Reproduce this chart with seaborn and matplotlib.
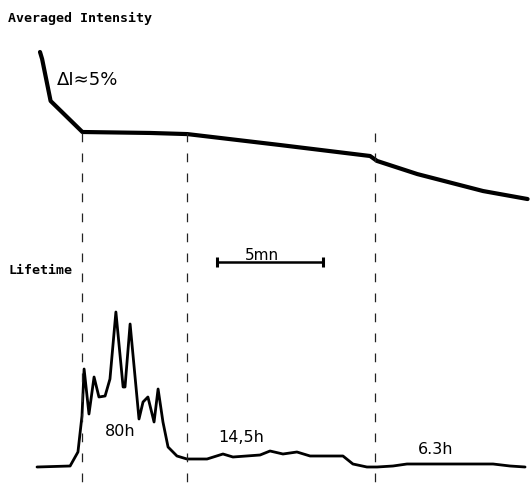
import numpy as np
import pandas as pd
import matplotlib
matplotlib.use("Agg")
import matplotlib.pyplot as plt
import seaborn as sns

# ---- data (time in minutes) ----
int_time = [0.0, 0.1, 0.5, 2.0, 5.2, 6.95, 11.3, 15.57, 15.9, 17.8, 20.9, 23.0]
int_value = [100.0, 99.56, 96.94, 95.0, 94.94, 94.87, 94.19, 93.5, 93.19, 92.37, 91.31, 90.81]

life_time = [-0.14, 1.42, 1.79, 1.98, 2.08, 2.31, 2.55, 2.78, 3.07, 3.3, 3.58, 3.92, 4.01,
             4.25, 4.67, 4.86, 5.09, 5.38, 5.57, 5.8, 6.04, 6.46, 6.93, 7.88, 8.63,
             9.1, 10.38, 10.85, 11.46, 12.12, 12.74, 13.54, 14.29, 14.76, 15.42, 15.9,
             16.65, 17.31, 18.25, 21.37, 22.17, 22.88]
life_value = [0, 1, 15, 51, 98, 53, 90, 70, 71, 88, 155, 80, 80,
              143, 48, 65, 70, 45, 78, 45, 20, 11, 8, 8, 13,
              10, 12, 16, 13, 15, 11, 11, 11, 3, 0, 0,
              1, 3, 3, 3, 1, 0]

event_times = [1.98, 6.93, 15.8]
scale_start, scale_len = 8.35, 5.0

FW, FH = 531, 489
px0, pxs = 40, 21.2
xlim = (-px0 / pxs, (FW - px0) / pxs)

sns.set_theme(style="white")
plt.rcParams['font.family'] = ['DejaVu Sans']

fig = plt.figure(figsize=(FW / 100, FH / 100), dpi=100)

def pos(top_px, bot_px):
    return [0, 1 - bot_px / FH, 1, (bot_px - top_px) / FH]

# intensity axes: I = 100 - (ypx-53)/16
ax_i = fig.add_axes(pos(40, 210))
ax_i.set_xlim(*xlim)
ax_i.set_ylim(100 - (210 - 53) / 16, 100 - (40 - 53) / 16)
sns.lineplot(x=int_time, y=int_value, ax=ax_i, color="black", linewidth=3.0,
             solid_joinstyle="round", solid_capstyle="round")

# lifetime axes: L = 468 - ypx
ax_l = fig.add_axes(pos(290, 480))
ax_l.set_xlim(*xlim)
ax_l.set_ylim(-12, 178)
sns.lineplot(x=life_time, y=life_value, ax=ax_l, color="black", linewidth=2.0,
             solid_joinstyle="round", solid_capstyle="round")

# overlay axes in figure coords (y in pixel rows)
ax_o = fig.add_axes([0, 0, 1, 1])
ax_o.set_xlim(*xlim)
ax_o.set_ylim(FH, 0)
ax_o.patch.set_alpha(0)

for a in (ax_i, ax_l, ax_o):
    a.set_axis_off()

for t in event_times:
    ax_o.plot([t, t], [134, 486], color="#222222", linewidth=0.9,
              linestyle=(0, (7, 9)))

ax_o.plot([scale_start, scale_start + scale_len], [263, 263], color="black",
          linewidth=1.8)
ax_o.plot([scale_start, scale_start + scale_len], [263, 263], color="black",
          linestyle="none", marker="|", markersize=7, markeredgewidth=2.2)

def tx(xpx, ypx, s, **kw):
    ax_o.text((xpx - px0) / pxs, ypx, s, **kw)

mono = dict(family="DejaVu Sans Mono", fontweight="bold", fontsize=9.5,
            color="black", va="center", ha="left")
tx(8, 18, "Averaged Intensity", **mono)
tx(8, 271, "Lifetime", **mono)
tx(57, 80, "ΔI≈5%", fontsize=13, color="black", va="center", ha="left")
tx(245, 255, "5mn", fontsize=11, color="black", va="center", ha="left")
tx(105, 431, "80h", fontsize=11.5, color="black", va="center", ha="left")
tx(218, 437, "14,5h", fontsize=11.5, color="black", va="center", ha="left")
tx(418, 450, "6.3h", fontsize=11.5, color="black", va="center", ha="left")

fig.savefig("out.png", dpi=100)
